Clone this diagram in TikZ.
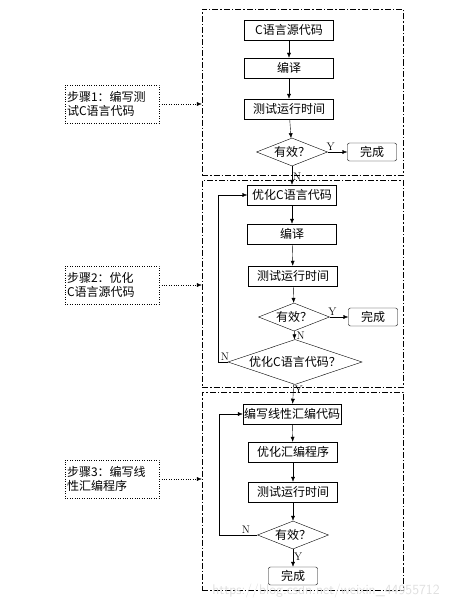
\documentclass[tikz,border=0pt]{standalone}
\usepackage{fontspec}
\newfontfamily\cjk{Noto Sans CJK SC}
\usetikzlibrary{shapes.geometric,arrows.meta}
\newcommand{\flowfont}{\cjk\fontsize{12}{14}\selectfont}
\newcommand{\yn}[1]{\textrm{\fontsize{11}{12}\selectfont #1}}

\begin{document}
\begin{tikzpicture}[x=1pt,y=-1pt,>={Latex[length=5pt,width=4pt]}]

\tikzstyle{proc}=[draw,font=\flowfont,minimum width=89pt,minimum height=20pt,inner sep=1pt]
\tikzstyle{decide}=[draw,diamond,font=\flowfont,aspect=2.5,inner sep=0pt,minimum width=71pt,minimum height=28pt]
\tikzstyle{finish}=[draw,rounded corners=2pt,font=\flowfont,minimum width=49pt,minimum height=18pt,inner sep=1pt]
\tikzstyle{phase}=[draw,dash pattern=on 6pt off 2pt on 1.5pt off 2pt,minimum width=201pt]
\tikzstyle{note}=[draw,dotted,font=\flowfont,align=left,text width=90pt,minimum height=38pt,inner sep=2pt]

\useasboundingbox (0,0) rectangle (473,610);

\node[phase,minimum height=166pt] (p1) at (302.5,92) {};
\node[phase,minimum height=207pt] (p2) at (302.5,283.5) {};
\node[phase,minimum height=198pt] (p3) at (302.5,491) {};

\node[note] (n1) at (112,104) {步骤1：编写测\\试C语言代码};
\node[note] (n2) at (112,285) {步骤2：优化\\C语言源代码};
\node[note] (n3) at (112,479) {步骤3：编写线\\性汇编程序};

\node[proc] (a1) at (289,30) {C语言源代码};
\node[proc] (a2) at (289,68) {编译};
\node[proc] (a3) at (289,109) {测试运行时间};
\node[decide] (d1) at (292,152) {有效？};
\node[finish] (f1) at (372,152) {完成};

\node[proc] (b1) at (292,195) {优化C语言代码};
\node[proc] (b2) at (292,234) {编译};
\node[proc] (b3) at (293,276) {测试运行时间};
\node[decide] (d2) at (294,317) {有效？};
\node[finish] (f2) at (373,317) {完成};
\node[decide,aspect=3,minimum width=134pt,minimum height=45pt] (d3) at (295,362) {优化C语言代码？};

\node[proc,minimum width=97pt] (c1) at (292,414) {编写线性汇编代码};
\node[proc] (c2) at (293,452) {优化汇编程序};
\node[proc] (c3) at (293,492) {测试运行时间};
\node[decide] (d4) at (293,535) {有效？};
\node[finish] (f3) at (293,576) {完成};

\coordinate (k2) at (218,362);
\coordinate (k3) at (219,535);

\draw[dotted,->] (n1) -- (n1 -| p1.west);
\draw[dotted,->] (n2) -- (n2 -| p2.west);
\draw[dotted,->] (n3) -- (n3 -| p3.west);

\draw[->] (a1) -- (a2);
\draw[->] (a2) -- (a3);
\draw[->] (a3) -- (d1);
\draw[->] (d1) -- node[pos=0.15,above,inner sep=1pt] (y1) {\yn{Y}} (f1);
\draw[->] (d1) -- node[pos=0.55,right,inner sep=1pt] (m1) {\yn{N}} (b1);

\draw[->] (b1) -- (b2);
\draw[->] (b2) -- (b3);
\draw[->] (b3) -- (d2);
\draw[->] (d2) -- node[pos=0.15,above,inner sep=1pt] (y2) {\yn{Y}} (f2);
\draw[->] (d2) -- node[pos=0.6,right,inner sep=2pt] (m2) {\yn{N}} (d3);
\draw[->] (d3.west) -- node[pos=0.3,above,inner sep=1pt] (m3) {\yn{N}} (k2) |- (b1.west);
\draw[->] (d3) -- node[pos=0.3,right,inner sep=1pt] (y3) {\yn{Y}} (c1);

\draw[->] (c1) -- (c2);
\draw[->] (c2) -- (c3);
\draw[->] (c3) -- (d4);
\draw[->] (d4.west) -- node[pos=0.3,above,inner sep=1pt] (m4) {\yn{N}} (k3) |- (c1.west);
\draw[->] (d4) -- node[pos=0.4,right,inner sep=1pt] (y4) {\yn{Y}} (f3);

\node[font=\sffamily\fontsize{14}{16}\selectfont,text=gray!25] (wm) at (326,591) {https://blog.csdn.net/weixin\_44955712};

\end{tikzpicture}
\end{document}
